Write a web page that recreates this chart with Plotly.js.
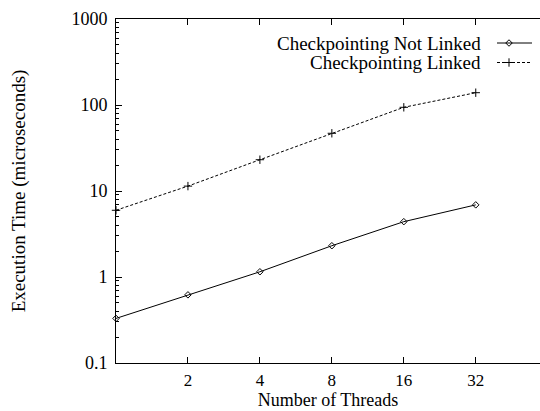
<!DOCTYPE html>
<html>
<head>
<meta charset="utf-8">
<script src="https://cdn.plot.ly/plotly-3.0.1.min.js"></script>
<style>html,body{margin:0;padding:0;background:#fff;}#chart{width:540px;height:411px;}</style>
</head>
<body>
<div id="chart"></div>
<script>
const threads = [1, 2, 4, 8, 16, 32];
const notLinked = [0.33, 0.62, 1.15, 2.31, 4.4, 6.9];
const linked = [5.97, 11.4, 23.1, 46.9, 94, 139];
const xTickVals = [2, 4, 8, 16, 32];
const xTickText = ['2', '4', '8', '16', '32'];
const yTickVals = [0.1, 1, 10, 100, 1000];
const yTickText = ['0.1', '1', '10', '100', '1000'];
const seriesNames = ['Checkpointing Not Linked', 'Checkpointing Linked'];

const FONT = '"Liberation Serif", "Times New Roman", serif';
const FS = 18, FX = 17, FT = 19, FXT = 18;
const L = 116, R = 540, T = 19, B = 363;

const traces = [
  {x: threads, y: notLinked, mode: 'lines+markers', name: seriesNames[0], showlegend: false,
   line: {color: '#000', width: 1}, marker: {symbol: 'diamond-open', size: 5, color: '#000', line: {width: 1}},
   cliponaxis: false},
  {x: threads, y: linked, mode: 'lines+markers', name: seriesNames[1], showlegend: false,
   line: {color: '#000', width: 1, dash: '3px,2px'}, marker: {symbol: 'cross-thin-open', size: 6, color: '#000', line: {width: 1, color: '#000'}},
   cliponaxis: false},
  {x: [497, 532], y: [43, 43], xaxis: 'x2', yaxis: 'y2', mode: 'lines', showlegend: false, hoverinfo: 'skip',
   line: {color: '#000', width: 1}, cliponaxis: false},
  {x: [509], y: [43], xaxis: 'x2', yaxis: 'y2', mode: 'markers', showlegend: false, hoverinfo: 'skip',
   marker: {symbol: 'diamond-open', size: 5, color: '#000', line: {width: 1}}, cliponaxis: false},
  {x: [497, 532], y: [62.5, 62.5], xaxis: 'x2', yaxis: 'y2', mode: 'lines', showlegend: false, hoverinfo: 'skip',
   line: {color: '#000', width: 1, dash: '3px,2px'}, cliponaxis: false},
  {x: [509], y: [62.5], xaxis: 'x2', yaxis: 'y2', mode: 'markers', showlegend: false, hoverinfo: 'skip',
   marker: {symbol: 'cross-thin-open', size: 6, color: '#000', line: {width: 1, color: '#000'}}, cliponaxis: false}
];

const layout = {
  width: 540, height: 411,
  margin: {l: L, r: 540 - R, t: T, b: 411 - B, pad: 0},
  paper_bgcolor: '#fff', plot_bgcolor: '#fff',
  font: {family: FONT, size: FS, color: '#000'},
  showlegend: false,
  xaxis: {
    type: 'log', range: [0, Math.log10(2) * 5.893], autorange: false,
    tickvals: xTickVals, ticktext: xTickText,
    ticks: 'inside', ticklen: 6, tickwidth: 1, tickcolor: '#000',
    showline: true, linecolor: '#000', linewidth: 1, mirror: 'ticks',
    showgrid: false, zeroline: false, ticklabelstandoff: 2,
    tickfont: {family: FONT, size: FX},
    title: {text: 'Number of Threads', font: {family: FONT, size: FXT}, standoff: 3}
  },
  yaxis: {
    type: 'log', range: [-1, 3], autorange: false,
    tickvals: yTickVals, ticktext: yTickText,
    ticks: 'inside', ticklen: 6, tickwidth: 1, tickcolor: '#000',
    minor: {ticks: 'inside', ticklen: 3, tickcolor: '#000', dtick: 'D1', showgrid: false},
    showline: true, linecolor: '#000', linewidth: 1,
    showgrid: false, zeroline: false, ticklabelstandoff: 4,
    tickfont: {family: FONT, size: FS},
    title: {text: 'Execution Time (microseconds)', font: {family: FONT, size: FT}, standoff: 40}
  },
  xaxis2: {overlaying: 'x', range: [L, R], autorange: false, visible: false, fixedrange: true},
  yaxis2: {overlaying: 'y', range: [B, T], autorange: false, visible: false, fixedrange: true},
  annotations: [
    {xref: 'x2', yref: 'y2', x: 483, y: 43, text: seriesNames[0], showarrow: false, xanchor: 'right', yanchor: 'middle',
     font: {family: FONT, size: FT, color: '#000'}},
    {xref: 'x2', yref: 'y2', x: 483, y: 62.5, text: seriesNames[1], showarrow: false, xanchor: 'right', yanchor: 'middle',
     font: {family: FONT, size: FT, color: '#000'}}
  ]
};

Plotly.newPlot('chart', traces, layout, {staticPlot: true, displayModeBar: false});
</script>
</body>
</html>
